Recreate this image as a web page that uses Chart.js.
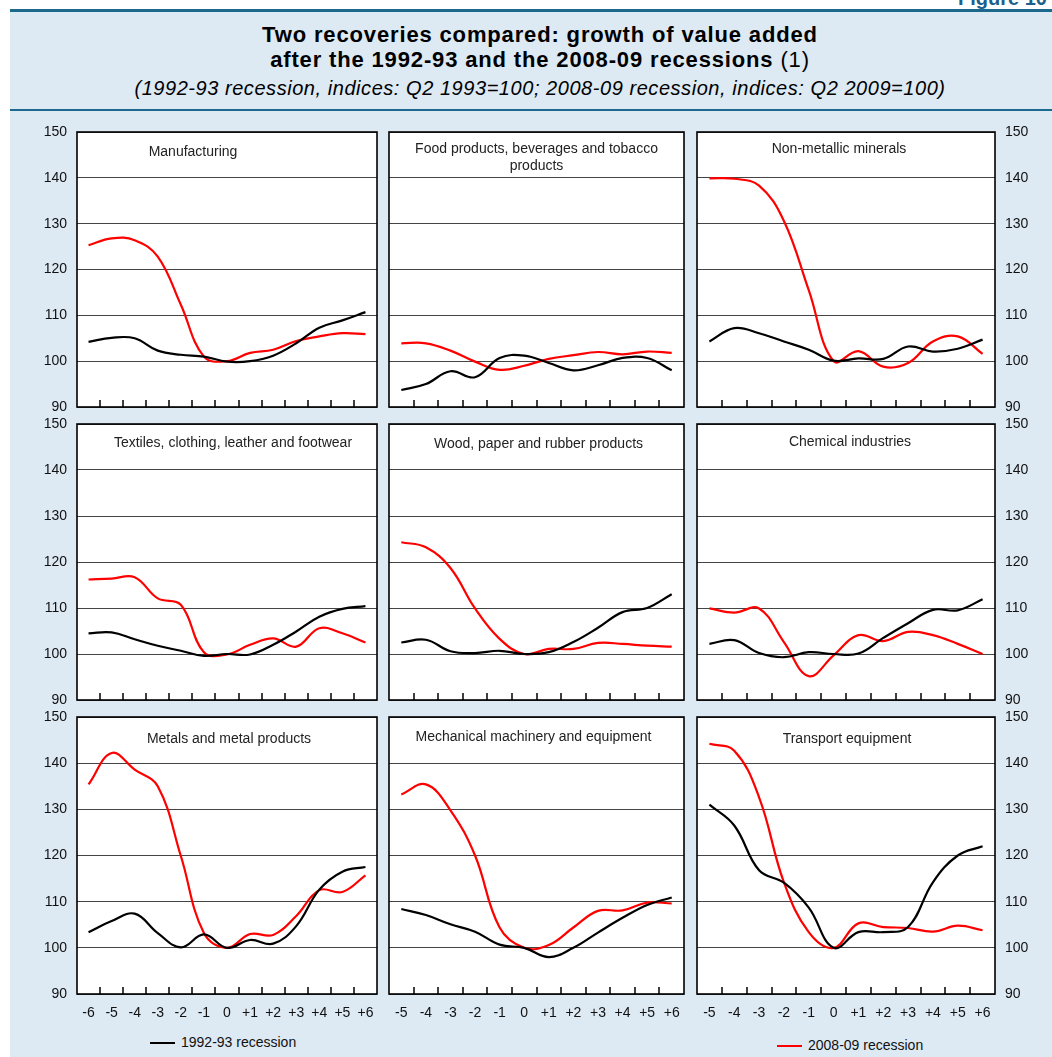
<!DOCTYPE html>
<html>
<head>
<meta charset="utf-8">
<title>Two recoveries compared</title>
<script src="https://cdn.jsdelivr.net/npm/chart.js@4.4.1/dist/chart.umd.min.js"></script>
<style>
  html, body { margin: 0; padding: 0; }
  body {
    width: 1052px; height: 1057px; position: relative; overflow: hidden;
    background: #fff; font-family: "Liberation Sans", Arial, sans-serif;
  }
  #frame {
    position: absolute; left: 10px; top: 9px; right: 0; bottom: 0;
    background: #dde9f3; border-top: 3px solid #1b6a8e;
  }
  #figno {
    position: absolute; left: 958px; top: -12px; font-size: 20px; line-height: 20px;
    font-weight: bold; color: #1b5f8c; white-space: nowrap;
  }
  #rule { position: absolute; left: 10px; right: 0; top: 109px; height: 2px; background: #1b6a8e; }
  .t { position: absolute; left: 0; width: 1080px; text-align: center; white-space: nowrap; color: #000; }
  #t1 { top: 24px; font-size: 22px; line-height: 22px; font-weight: bold; letter-spacing: 0.85px; }
  #t2 { top: 49px; font-size: 22px; line-height: 22px; font-weight: bold; letter-spacing: 0.85px; }
  #t2 span { font-weight: normal; }
  #t3 { top: 78px; font-size: 20px; line-height: 20px; font-style: italic; letter-spacing: 0.55px; }
  canvas { position: absolute; }
  .leg { position: absolute; font-size: 14px; line-height: 16px; white-space: nowrap; color: #111; }
  .leg span { display: inline-block; width: 25px; height: 2px; vertical-align: middle; margin-right: 6px; }
</style>
</head>
<body>
<div id="figno">Figure 10</div>
<div id="frame"></div>
<div id="rule"></div>
<div class="t" id="t1">Two recoveries compared: growth of value added</div>
<div class="t" id="t2">after the 1992-93 and the 2008-09 recessions <span>(1)</span></div>
<div class="t" id="t3">(1992-93 recession, indices: Q2 1993=100; 2008-09 recession, indices: Q2 2009=100)</div>
<div class="leg" style="left:150px; top:1034px;"><span style="background:#000"></span>1992-93 recession</div>
<div class="leg" style="left:777px; top:1037px;"><span style="background:#f00"></span>2008-09 recession</div>

<script>
// Quarters from the trough (Q2 1993 / Q2 2009 = 0)
const quartersLong = ["-6", "-5", "-4", "-3", "-2", "-1", "0", "+1", "+2", "+3", "+4", "+5", "+6"];
const quartersShort = ["-5", "-4", "-3", "-2", "-1", "0", "+1", "+2", "+3", "+4", "+5", "+6"];

// Index scale
const yMin = 90;
const yMax = 150;
const yStep = 10;

const sectors = [
  "Manufacturing",
  "Food products, beverages and tobacco\nproducts",
  "Non-metallic minerals",
  "Textiles, clothing, leather and footwear",
  "Wood, paper and rubber products",
  "Chemical industries",
  "Metals and metal products",
  "Mechanical machinery and equipment",
  "Transport equipment",
];

// 1992-93 recession (black) and 2008-09 recession (red)
const manufacturing9293 = [104.2, 105.1, 105.0, 102.3, 101.4, 101.0, 99.9, 100.0, 101.2, 103.9, 107.3, 108.9, 110.7];
const manufacturing0809 = [125.3, 126.8, 126.4, 122.8, 112.3, 101.0, 100.0, 101.8, 102.5, 104.4, 105.4, 106.1, 105.9];

const food9293 = [93.7, 95.0, 97.8, 96.5, 100.7, 101.2, 99.6, 98.0, 99.1, 100.7, 100.7, 98.0];
const food0809 = [103.9, 103.9, 102.3, 99.9, 98.1, 99.0, 100.5, 101.3, 102.0, 101.5, 102.1, 101.8];

const minerals9293 = [104.3, 107.2, 106.1, 104.3, 102.5, 100.1, 100.6, 100.5, 103.2, 102.1, 102.7, 104.7];
const minerals0809 = [139.9, 139.8, 138.3, 130.6, 115.5, 100.0, 102.2, 98.8, 99.6, 104.3, 105.4, 101.6];

const textiles9293 = [104.5, 104.7, 103.2, 101.8, 100.7, 99.6, 100.0, 99.9, 102.0, 104.9, 108.1, 109.8, 110.4];
const textiles0809 = [116.2, 116.4, 116.7, 112.1, 110.7, 100.4, 99.9, 102.0, 103.4, 101.6, 105.6, 104.5, 102.5];

const wood9293 = [102.5, 103.1, 100.6, 100.2, 100.7, 100.0, 100.4, 102.6, 105.7, 109.1, 110.0, 113.0];
const wood0809 = [124.3, 123.2, 118.7, 109.9, 103.3, 100.0, 101.1, 101.1, 102.4, 102.2, 101.8, 101.6];

const chemical9293 = [102.2, 103.0, 100.2, 99.3, 100.4, 100.0, 100.1, 103.5, 106.7, 109.6, 109.5, 111.9];
const chemical0809 = [109.9, 109.0, 109.9, 102.6, 95.2, 99.7, 104.1, 102.8, 104.8, 104.1, 102.2, 100.0];

const metals9293 = [103.4, 105.8, 107.4, 103.2, 100.1, 102.9, 100.0, 101.7, 100.9, 104.7, 112.6, 116.5, 117.5];
const metals0809 = [135.4, 142.2, 138.6, 135.0, 119.9, 103.2, 100.0, 103.0, 102.8, 106.9, 112.5, 112.1, 115.7];

const machinery9293 = [108.4, 107.1, 105.1, 103.5, 100.7, 100.0, 98.0, 100.0, 103.3, 106.5, 109.3, 110.9];
const machinery0809 = [133.2, 135.4, 129.8, 120.0, 104.4, 100.0, 100.6, 104.4, 108.0, 108.1, 109.8, 109.6];

const transport9293 = [131.0, 126.5, 116.8, 114.1, 108.7, 100.0, 103.4, 103.4, 104.5, 114.2, 120.0, 122.0];
const transport0809 = [144.2, 142.7, 132.6, 114.2, 103.4, 100.0, 105.3, 104.5, 104.3, 103.5, 104.8, 103.8];

const panels = [
  { labels: quartersLong, old: manufacturing9293, recent: manufacturing0809 },
  { labels: quartersShort, old: food9293, recent: food0809 },
  { labels: quartersShort, old: minerals9293, recent: minerals0809 },
  { labels: quartersLong, old: textiles9293, recent: textiles0809 },
  { labels: quartersShort, old: wood9293, recent: wood0809 },
  { labels: quartersShort, old: chemical9293, recent: chemical0809 },
  { labels: quartersLong, old: metals9293, recent: metals0809 },
  { labels: quartersShort, old: machinery9293, recent: machinery0809 },
  { labels: quartersShort, old: transport9293, recent: transport0809 },
];

// Grid geometry (plot areas on the page)
const cols = [
  { left: 77, right: 377, axis: "left" },
  { left: 389, right: 684, axis: "none" },
  { left: 697, right: 995, axis: "right" },
];
const rows = [
  { top: 132, bottom: 407, labels: false },
  { top: 424, bottom: 700, labels: false },
  { top: 717, bottom: 994, labels: true },
];
// title placement inside each plot: [dx from centre, dy from top]
const titlePos = [
  [-34, 20], [0, 17], [-7, 17],
  [6, 19], [2, 20], [4, 18],
  [2, 22], [-3, 20], [1, 22],
];

Chart.defaults.font.family = '"Liberation Sans", Arial, sans-serif';
Chart.defaults.font.size = 14;
Chart.defaults.color = "#111";

// White plot, frame, inner tick marks and panel title
const panelDecor = {
  id: "panelDecor",
  beforeDraw(chart) {
    const { ctx, chartArea: a } = chart;
    ctx.save();
    ctx.fillStyle = "#fff";
    ctx.fillRect(a.left, a.top, a.right - a.left, a.bottom - a.top);
    ctx.restore();
  },
  afterDraw(chart, args, opts) {
    const { ctx, chartArea: a } = chart;
    const x = chart.scales.x;
    ctx.save();
    ctx.strokeStyle = "#000";
    ctx.lineWidth = 1.5;
    ctx.beginPath();
    for (let i = 0; i < x.ticks.length - 1; i++) {
      const px = Math.round(x.getPixelForValue(i + 0.5));
      ctx.moveTo(px, a.bottom);
      ctx.lineTo(px, a.bottom - 7);
    }
    ctx.stroke();
    ctx.lineWidth = 1.6;
    ctx.strokeRect(a.left, a.top, a.right - a.left, a.bottom - a.top);

    ctx.fillStyle = "#222";
    ctx.font = '14px "Liberation Sans", Arial, sans-serif';
    ctx.textAlign = "center";
    ctx.textBaseline = "middle";
    opts.text.split("\n").forEach((line, k) => {
      ctx.fillText(line, (a.left + a.right) / 2 + opts.dx, a.top + opts.dy + k * 17);
    });
    ctx.restore();
  },
};

const padL = 4, padR = 4, padT = 10, padB = 10, axisW = 50, axisH = 30;

panels.forEach((p, idx) => {
  const col = cols[idx % 3];
  const row = rows[Math.floor(idx / 3)];
  const yW = col.axis === "none" ? 0 : axisW;
  const xH = row.labels ? axisH : 0;
  const plotW = col.right - col.left;
  const plotH = row.bottom - row.top;

  const canvas = document.createElement("canvas");
  const left = col.axis === "left" ? col.left - padL - yW : col.left - padL;
  canvas.width = padL + yW + plotW + padR;
  canvas.height = padT + plotH + xH + padB;
  canvas.style.left = left + "px";
  canvas.style.top = row.top - padT + "px";
  document.body.appendChild(canvas);

  new Chart(canvas, {
    type: "line",
    data: {
      labels: p.labels,
      datasets: [
        {
          label: "1992-93 recession",
          data: p.old,
          borderColor: "#000",
          borderWidth: 2.2,
          pointRadius: 0,
          tension: 0.4,
        },
        {
          label: "2008-09 recession",
          data: p.recent,
          borderColor: "#ff0000",
          borderWidth: 2.2,
          pointRadius: 0,
          tension: 0.4,
        },
      ],
    },
    options: {
      responsive: false,
      animation: false,
      devicePixelRatio: 1,
      events: [],
      layout: { padding: { top: padT, bottom: padB, left: padL, right: padR } },
      plugins: {
        legend: { display: false },
        tooltip: { enabled: false },
        panelDecor: { text: sectors[idx], dx: titlePos[idx][0], dy: titlePos[idx][1] },
      },
      scales: {
        x: {
          offset: true,
          grid: { display: false, drawTicks: false },
          border: { display: false },
          ticks: { display: row.labels, padding: 11, color: "#111", autoSkip: false, maxRotation: 0 },
          afterFit: (s) => {
            s.height = xH;
            s.paddingLeft = 0;
            s.paddingRight = 0;
          },
        },
        y: {
          position: col.axis === "right" ? "right" : "left",
          min: yMin,
          max: yMax,
          ticks: { stepSize: yStep, display: col.axis !== "none", padding: 10, color: "#111" },
          grid: { color: "#444", lineWidth: 1, drawTicks: false },
          border: { display: false },
          afterFit: (s) => {
            s.width = yW;
            s.paddingTop = 0;
            s.paddingBottom = 0;
          },
        },
      },
    },
    plugins: [panelDecor],
  });
});
</script>
</body>
</html>
